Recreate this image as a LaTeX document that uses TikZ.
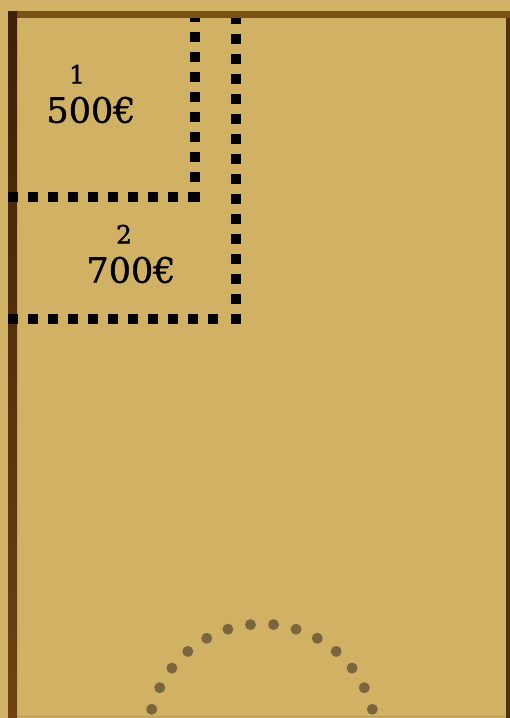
\documentclass[tikz,border=0pt]{standalone}
\usepackage{fontspec}
\setmainfont{DejaVu Serif}
\newfontfamily\lotfont[FakeBold=1.2]{DejaVu Serif}
\usetikzlibrary{positioning}
\definecolor{parch}{HTML}{D1B265}
\definecolor{frame}{HTML}{7A5116}
\definecolor{framedark}{HTML}{3E2007}
\definecolor{framemid}{HTML}{6E4311}
\definecolor{seatbrown}{HTML}{7A653F}
\definecolor{edge}{HTML}{B99A52}
\begin{document}
\begin{tikzpicture}[x=1pt,y=-1pt,node distance=13pt,
price/.style={inner sep=0pt,font=\lotfont\fontsize{35}{40}\selectfont},
lot/.style={inner sep=0pt,font=\lotfont\fontsize{25}{30}\selectfont},
fence/.style={line width=10pt,dash pattern=on 10pt off 10pt},
seat/.style={fill=seatbrown}]
\useasboundingbox (0,0) rectangle (510,718);
\fill[parch] (0,0) rectangle (510,718);
\fill[frame] (8,11) rectangle (510,18);
\shade[top color=framedark,bottom color=framemid] (8,11) rectangle (17,718);
\fill[framedark!70!frame] (506,18) rectangle (510,718);
\draw[edge,line width=1.5pt] (17,716.5) -- (506,716.5);
\draw[fence] (8,197) -- (198,197);
\draw[fence] (195,202) -- (195,18);
\draw[fence] (8,319) -- (220,319);
\draw[fence] (236,324) -- (236,18);
\node[price] (p1) at (91,110) {500€};
\node[lot,above=of p1,xshift=-14pt] (n1) {1};
\node[price] (p2) at (131,270) {700€};
\node[lot,above=of p2,xshift=-7pt] (n2) {2};
\foreach \k in {0,...,6} {
  \fill[seat] ([shift={(262,738)}]{-95.8-11.6*\k}:114) circle (5.5pt);
  \fill[seat] ([shift={(262,738)}]{-84.2+11.6*\k}:114) circle (5.5pt);
}
\end{tikzpicture}
\end{document}
